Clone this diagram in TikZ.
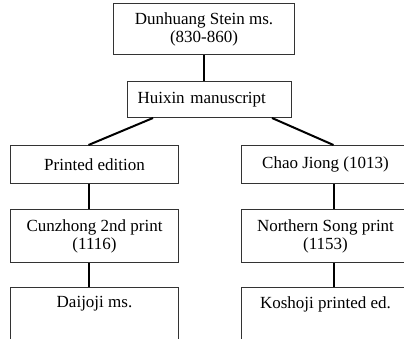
\documentclass[tikz,border=0pt]{standalone}
\usepackage{fontspec}
\setmainfont{Liberation Serif}

\begin{document}
\begin{tikzpicture}[x=1pt,y=-1pt,
    witness/.style={draw=black!80,line width=1pt,anchor=north west,align=center,
      inner sep=0pt,font=\fontsize{17}{18}\selectfont},
    link/.style={line width=2pt}]
    \pgfmathsetmacro{\colWidth}{168}
    \pgfmathsetmacro{\leftX}{10}
    \pgfmathsetmacro{\rightX}{241}
    \pgfmathsetmacro{\oneLine}{38}
    \pgfmathsetmacro{\twoLines}{53}

    \useasboundingbox (0,0) rectangle (404,338);
    \clip (0,0) rectangle (404,338);

    % Archetype
    \node[witness,minimum width=181,minimum height=51] (dunhuang) at (113,3) {Dunhuang Stein ms.\\(830-860)};
    \node[witness,minimum height=36,inner xsep=10pt,text width=144pt,align=left] (huixin) at (127,81) {Huixin manuscript};

    % Left branch
    \node[witness,minimum width=\colWidth,minimum height=\oneLine] (printed) at (\leftX,145) {Printed edition};
    \node[witness,minimum width=\colWidth,minimum height=\twoLines] (cunzhong) at (\leftX,209) {Cunzhong 2nd print\\(1116)};
    \node[witness,minimum width=\colWidth,minimum height=\twoLines] (daijoji) at (\leftX,287) {Daijoji ms.\\\strut};

    % Right branch
    \node[witness,minimum width=\colWidth,minimum height=\oneLine] (chao) at (\rightX,145) {Chao Jiong (1013)};
    \node[witness,minimum width=\colWidth,minimum height=\twoLines] (northern) at (\rightX,209) {Northern Song print\\(1153)};
    \node[witness,minimum width=\colWidth,minimum height=\twoLines] (koshoji) at (\rightX,287) {Koshoji printed ed.\\\strut};

    % Stemma lines
    \draw[link] (dunhuang.south) -- (dunhuang.south |- huixin.north);
    \draw[link] ([xshift=26pt]huixin.south west) -- ([xshift=-6pt]printed.north);
    \draw[link] ([xshift=-20pt]huixin.south east) -- ([xshift=8pt]chao.north);
    \draw[link] ([xshift=-6pt]printed.south) -- ([xshift=-6pt]cunzhong.north);
    \draw[link] ([xshift=-6pt]cunzhong.south) -- ([xshift=-6pt]daijoji.north);
    \draw[link] ([xshift=8pt]chao.south) -- ([xshift=8pt]northern.north);
    \draw[link] ([xshift=8pt]northern.south) -- ([xshift=8pt]koshoji.north);
\end{tikzpicture}
\end{document}
